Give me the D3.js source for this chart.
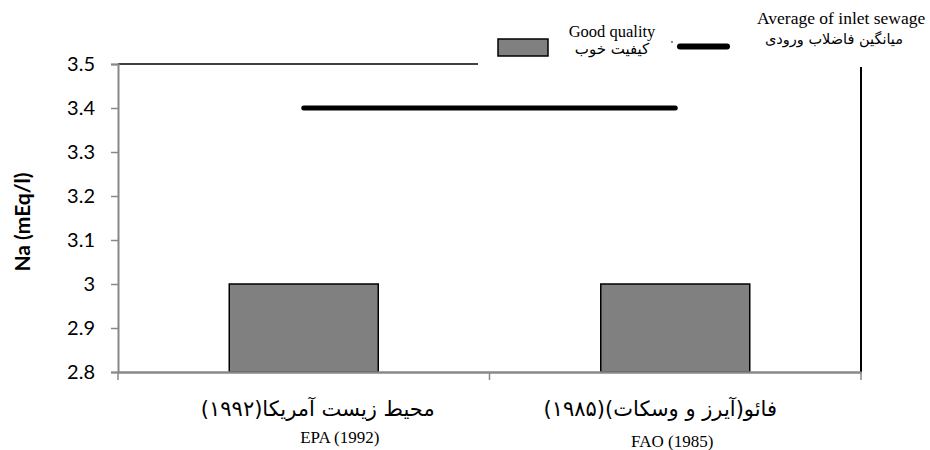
<!DOCTYPE html>
<html><head><meta charset="utf-8">
<script src="https://cdn.jsdelivr.net/npm/d3@7"></script>
<style>body{margin:0;background:#fff}svg{display:block}</style>
</head><body>
<svg id="c" width="930" height="450"></svg>
<script>
const categoriesFa = ["محیط زیست آمریکا(۱۹۹۲)", "فائو(آیرز و وسکات)(۱۹۸۵)"];
const categoriesEn = ["EPA (1992)", "FAO (1985)"];
const goodQuality = [3.0, 3.0];
const inletAverage = [3.4, 3.4];
const yTicks = [2.8, 2.9, 3.0, 3.1, 3.2, 3.3, 3.4, 3.5];
const yTickLabels = ["2.8", "2.9", "3", "3.1", "3.2", "3.3", "3.4", "3.5"];
const yTitle = "Na (mEq/l)";
const legendGood = ["Good quality", "کیفیت خوب"];
const legendAvg = ["Average of inlet sewage", "میانگین فاضلاب ورودی"];

const svg = d3.select("#c");
const L = 118, R = 861, T = 64, B = 372;
const x = d3.scaleBand().domain(categoriesEn).range([L, R]).paddingInner(0).paddingOuter(0);
const y = d3.scaleLinear().domain([2.8, 3.5]).range([B, T]);
const bw = 149;
const cx = i => x(categoriesEn[i]) + x.bandwidth() / 2;

// plot border (top partial, right)
svg.append("line").attr("x1", L).attr("x2", 478).attr("y1", T).attr("y2", T).attr("stroke", "#000").attr("stroke-width", 1.3);
svg.append("line").attr("x1", R).attr("x2", R).attr("y1", 67).attr("y2", B).attr("stroke", "#000").attr("stroke-width", 2);

// bars
svg.selectAll("rect.bar").data(goodQuality).join("rect").attr("class", "bar")
  .attr("x", (d, i) => cx(i) - bw / 2)
  .attr("width", bw)
  .attr("y", d => y(d))
  .attr("height", d => B - y(d))
  .attr("fill", "#808080").attr("stroke", "#000").attr("stroke-width", 1.5);

// y axis
const ya = svg.append("g").attr("transform", `translate(${L},0)`)
  .call(d3.axisLeft(y).tickValues(yTicks).tickSize(7).tickFormat((d, i) => yTickLabels[i]));
ya.select(".domain").attr("stroke", "#888").attr("stroke-width", 2);
ya.selectAll(".tick line").attr("stroke", "#888").attr("stroke-width", 1.5);
ya.selectAll(".tick text").attr("font-family", "Lato, 'Open Sans', sans-serif").attr("font-size", 20).attr("fill", "#000").attr("x", -23);

// x axis
const xa = svg.append("g").attr("transform", `translate(0,${B})`)
  .call(d3.axisBottom(x).tickSize(0).tickFormat(""));
xa.select(".domain").attr("stroke", "#888").attr("stroke-width", 2.5);
const xb = [L, x(categoriesEn[1]), R];
svg.selectAll("line.xt").data(xb).join("line").attr("class", "xt")
  .attr("x1", d => d).attr("x2", d => d).attr("y1", B).attr("y2", B + 8)
  .attr("stroke", "#888").attr("stroke-width", 1.5);

// category labels
const faOff = [14, -15], enOff = [36, -3], enY = [443, 447];
svg.selectAll("text.fa").data(categoriesFa).join("text").attr("class", "fa")
  .attr("x", (d, i) => cx(i) + faOff[i])
  .attr("y", 416).attr("text-anchor", "middle").attr("direction", "rtl")
  .attr("font-family", "'DejaVu Sans', serif").attr("font-size", 21).text(d => d);
svg.selectAll("text.en").data(categoriesEn).join("text").attr("class", "en")
  .attr("x", (d, i) => cx(i) + enOff[i])
  .attr("y", (d, i) => enY[i]).attr("text-anchor", "middle")
  .attr("font-family", "'Liberation Serif', serif").attr("font-size", 17).text(d => d);

// average line
const line = d3.line().x((d, i) => cx(i)).y(d => y(d));
svg.append("path").datum(inletAverage).attr("d", line).attr("fill", "none")
  .attr("stroke", "#000").attr("stroke-width", 5).attr("stroke-linecap", "round");

// y title
svg.append("text").attr("transform", "translate(30,222) rotate(-90)")
  .attr("text-anchor", "middle").attr("font-family", "Lato, 'Open Sans', sans-serif")
  .attr("font-weight", "bold").attr("font-size", 21).text(yTitle);

// legend
svg.append("rect").attr("x", 498).attr("y", 39).attr("width", 50).attr("height", 17)
  .attr("fill", "#808080").attr("stroke", "#000").attr("stroke-width", 1.5);
svg.append("text").attr("x", 612).attr("y", 37).attr("text-anchor", "middle")
  .attr("font-family", "'Liberation Serif', serif").attr("font-size", 16.5).text(legendGood[0]);
svg.append("text").attr("x", 612).attr("y", 54).attr("text-anchor", "middle").attr("direction", "rtl")
  .attr("font-family", "'DejaVu Sans', serif").attr("font-size", 15).text(legendGood[1]);
svg.append("circle").attr("cx", 672).attr("cy", 42).attr("r", 0.9).attr("fill", "#555");
svg.append("line").attr("x1", 680).attr("x2", 727).attr("y1", 46.5).attr("y2", 46.5)
  .attr("stroke", "#000").attr("stroke-width", 6).attr("stroke-linecap", "round");
svg.append("text").attr("x", 757).attr("y", 24)
  .attr("font-family", "'Liberation Serif', serif").attr("font-size", 17.5).text(legendAvg[0]);
svg.append("text").attr("x", 903).attr("y", 44).attr("text-anchor", "start").attr("direction", "rtl")
  .attr("font-family", "'DejaVu Sans', serif").attr("font-size", 14.5).text(legendAvg[1]);
</script>
</body></html>
